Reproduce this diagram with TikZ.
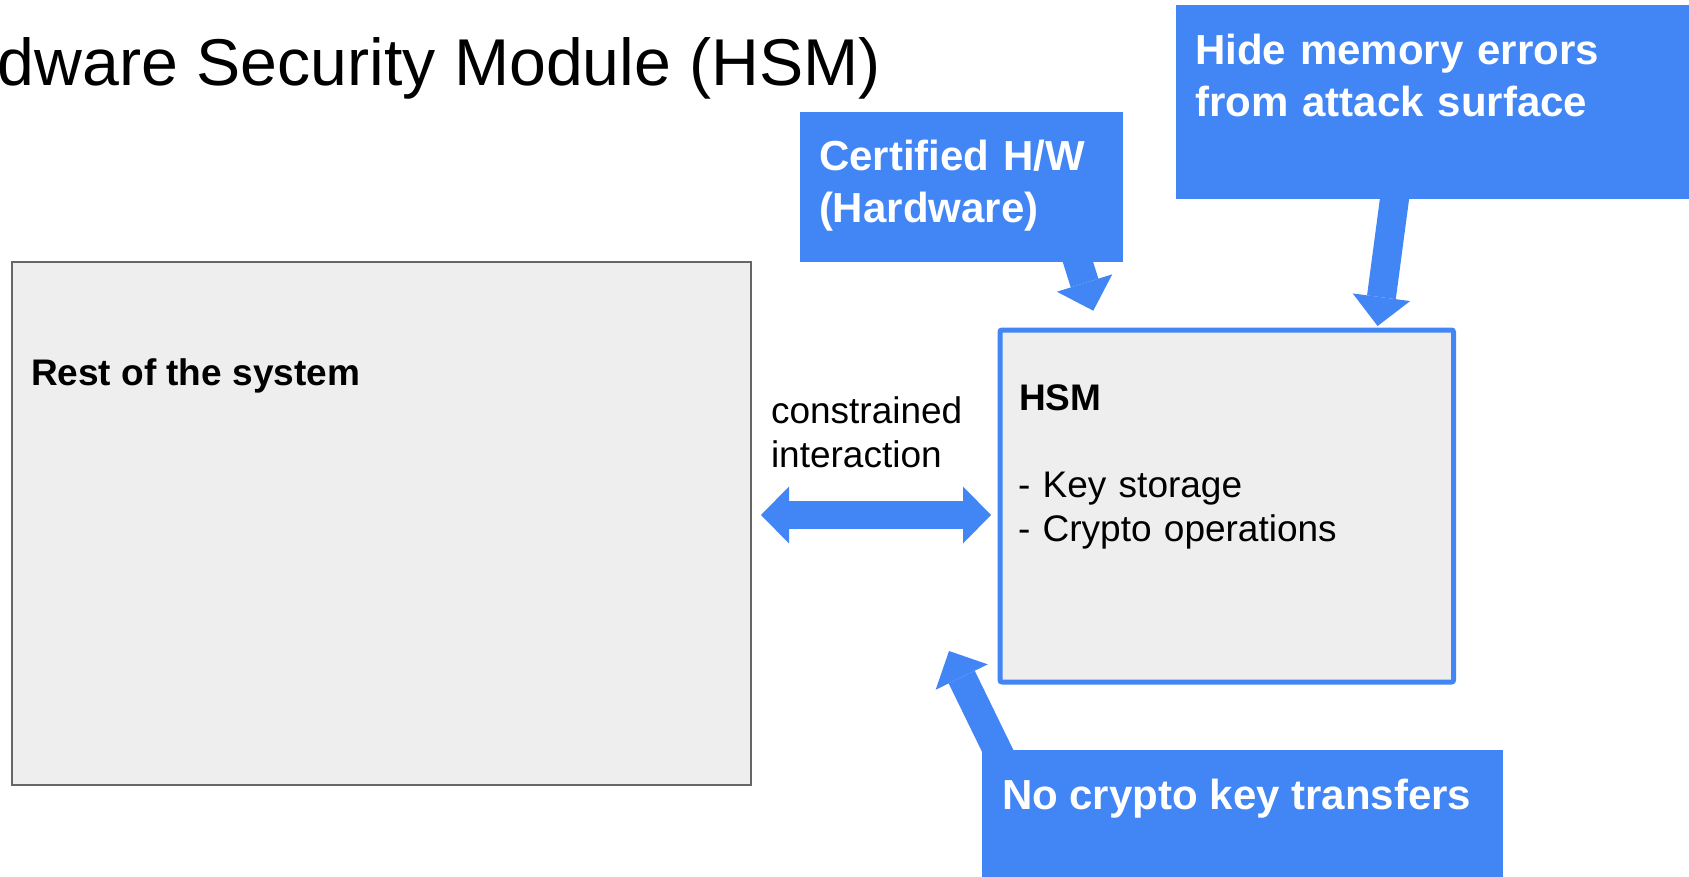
\documentclass[tikz,border=0pt]{standalone}
\usepackage{fontspec}
\setmainfont{Liberation Sans}
\usetikzlibrary{arrows.meta}
\definecolor{gblue}{HTML}{4285F4}
\definecolor{panelgray}{HTML}{EEEEEE}
\definecolor{edgegray}{HTML}{666666}
\begin{document}
\begin{tikzpicture}[x=1pt,y=-1pt,
  box/.style={rectangle,anchor=north west,inner sep=0pt,outer sep=0pt},
  panel/.style={box,fill=panelgray},
  callout/.style={box,fill=gblue},
  label/.style={anchor=base west,inner sep=0pt,outer sep=0pt},
  multiline/.style={label,text width=640pt,align=left},
  body/.style={font=\fontsize{37}{44}\selectfont},
  bodybold/.style={font=\bfseries\fontsize{37}{44}\selectfont},
  calltext/.style={text=white,font=\bfseries\fontsize{42}{52}\selectfont},
  fatarrow/.style={draw=gblue,line width=29pt,
    -{Triangle[length=29pt,width=58pt,line width=0pt]}},
  twoway/.style={draw=gblue,line width=28pt,
    {Triangle[length=28pt,width=57pt,line width=0pt]}-{Triangle[length=28pt,width=57pt,line width=0pt]}}
]
\useasboundingbox (0,0) rectangle (1689,877);
\clip (0,0) rectangle (1689,877);

% heading
\node[label,font=\fontsize{66.2}{80}\selectfont] (title) at (-2,86)
  {dware Security Module (HSM)};

% arrow ends
\coordinate (certtail) at (1071,240);
\coordinate (certtip)  at (1093.3,310.7);
\coordinate (hidetail) at (1397,180);
\coordinate (hidetip)  at (1377.6,326);
\coordinate (keytail)  at (1007,770);
\coordinate (keytip)   at (949,651);
\coordinate (linkL)    at (761,515);
\coordinate (linkR)    at (991,515);

% callout pointers (drawn first so the callout boxes cover their tails)
\draw[fatarrow] (certtail) -- (certtip);
\draw[fatarrow] (hidetail) -- (hidetip);
\draw[fatarrow] (keytail) -- (keytip);

% main blocks
\node[panel,draw=edgegray,line width=2pt,minimum width=739pt,minimum height=523pt]
  (rest) at (12,262) {};
\node[panel,draw=gblue,line width=5pt,rounded corners=2pt,
  minimum width=453.5pt,minimum height=352pt] (hsm) at (1000,330) {};

% callout boxes
\node[callout,minimum width=323pt,minimum height=150pt] (cert) at (800,112) {};
\node[callout,minimum width=530pt,minimum height=194pt] (hide) at (1176,5) {};
\node[callout,minimum width=521pt,minimum height=140pt] (nokey) at (982,750) {};

% two-way link between the blocks
\draw[twoway] (linkL) -- (linkR);

% block texts
\node[label,bodybold] (restlbl) at (31,385) {Rest of the system};
\node[label,bodybold] (hsmlbl) at (1019,410.7) {HSM};
\node[multiline,body] (hsmitems) at (1018,497.5)
  {- Key storage\\- Crypto operations};
\node[multiline,body] (linklbl) at (771,423)
  {constrained\\interaction};

% callout texts
\node[multiline,calltext] (certlbl) at (819,171)
  {Certified H/W\\(Hardware)};
\node[multiline,calltext] (hidelbl) at (1195,64.5)
  {Hide memory errors\\from attack surface};
\node[label,calltext] (nokeylbl) at (1002,809)
  {No crypto key transfers};
\end{tikzpicture}
\end{document}
